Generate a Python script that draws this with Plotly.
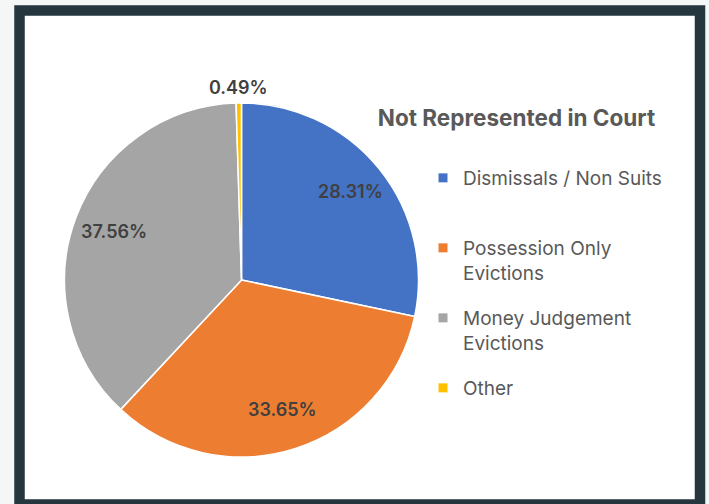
import math
import plotly.graph_objects as go

# Case outcomes for tenants not represented in court (share of cases, %)
categories = ["Dismissals / Non Suits", "Possession Only Evictions",
              "Money Judgement Evictions", "Other"]
legend_labels = ["Dismissals / Non Suits<br> ", "Possession Only<br>Evictions",
                 "Money Judgement<br>Evictions", "Other<br> "]
shares = [28.31, 33.65, 37.56, 0.49]
colors = ["#4472C4", "#ED7D31", "#A5A5A5", "#FFC000"]
# radial placement of each percentage label, as a fraction of the pie radius
label_radius = [0.79, 0.77, 0.77, 1.09]

W, H = 709, 504
FONT = "Inter, 'DejaVu Sans', sans-serif"


def px(x):
    return x / W


def py(y):
    return 1 - y / H


# pie box in pixels (left, right, top, bottom)
PIE_L, PIE_R, PIE_T, PIE_B = 64.5, 418.5, 102, 458
cx, cy = (PIE_L + PIE_R) / 2, (PIE_T + PIE_B) / 2
radius = min(PIE_R - PIE_L, PIE_B - PIE_T) / 2

fig = go.Figure()

fig.add_trace(go.Pie(
    labels=categories,
    values=shares,
    sort=False,
    direction="clockwise",
    rotation=0,
    marker=dict(colors=colors, line=dict(color="white", width=1.5)),
    textinfo="none",
    hoverinfo="skip",
    showlegend=False,
    domain=dict(x=[px(PIE_L), px(PIE_R)], y=[py(PIE_B), py(PIE_T)]),
))

# Percentage labels placed along each slice's mid-angle (clockwise from 12 o'clock)
total = sum(shares)
cum = 0.0
annotations = []
for val, rf in zip(shares, label_radius):
    mid = 2 * math.pi * (cum + val / 2) / total
    cum += val
    lx = cx + rf * radius * math.sin(mid)
    ly = cy - rf * radius * math.cos(mid)
    annotations.append(dict(
        x=px(lx), y=py(ly), xref="paper", yref="paper",
        text=f"{val:.2f}%", showarrow=False,
        xanchor="center", yanchor="middle",
        font=dict(family=FONT, size=18, color="#404040", weight=600),
    ))

# Legend entries, one group each so the rows are evenly spaced
for name, col in zip(legend_labels, colors):
    fig.add_trace(go.Scatter(
        x=[None], y=[None], mode="markers", name=name, legendgroup=name,
        marker=dict(symbol="square", size=9, color=col),
        hoverinfo="skip",
    ))

fig.update_layout(
    width=W, height=H,
    margin=dict(l=0, r=0, t=0, b=0),
    paper_bgcolor="#f5f6f6",
    plot_bgcolor="rgba(0,0,0,0)",
    xaxis=dict(visible=False, range=[0, 1]),
    yaxis=dict(visible=False, range=[0, 1]),
    title=dict(
        text="<b>Not Represented in Court</b>",
        font=dict(family=FONT, size=22.5, color="#595959"),
        x=px(516.5), xref="paper", xanchor="center",
        y=py(118), yref="paper", yanchor="middle",
    ),
    legend=dict(
        x=px(423), xanchor="left",
        y=py(159), yanchor="top",
        traceorder="grouped",
        tracegroupgap=17.6,
        valign="top",
        itemclick=False, itemdoubleclick=False,
        font=dict(family=FONT, size=19, color="#595959"),
        bgcolor="rgba(0,0,0,0)",
    ),
    annotations=annotations,
    shapes=[dict(
        type="rect", xref="paper", yref="paper", layer="below",
        x0=px(19.5), x1=px(700), y0=py(504.5), y1=py(10.5),
        line=dict(color="#26363F", width=10.5),
        fillcolor="white",
    )],
)

fig.write_html("out.html")
